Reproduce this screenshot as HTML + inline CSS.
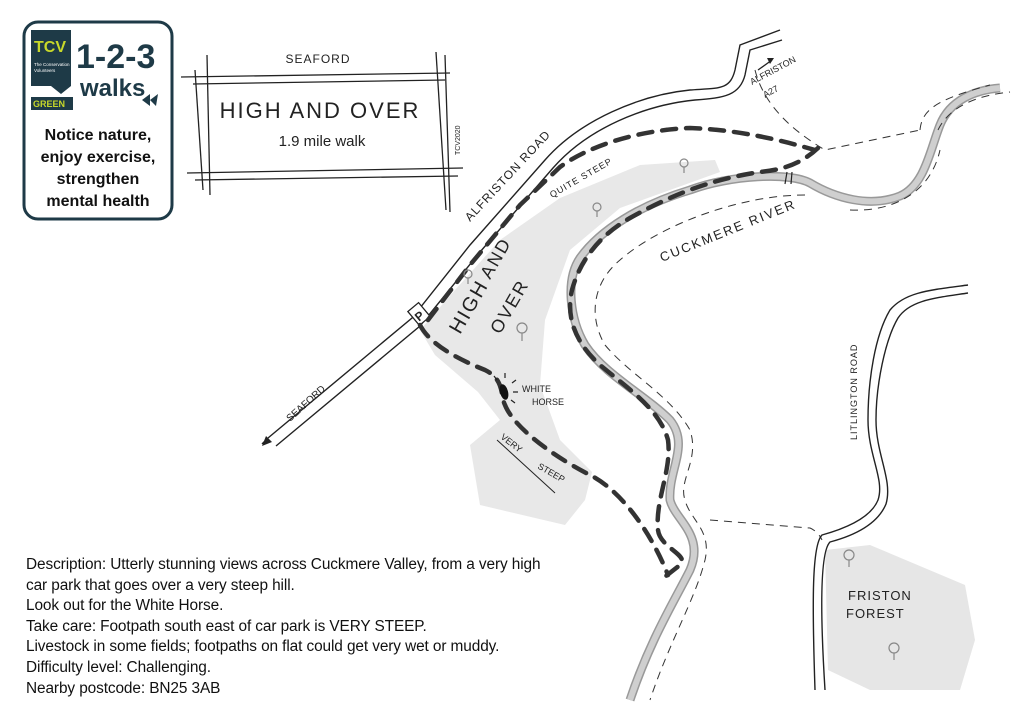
<!DOCTYPE html>
<html><head><meta charset="utf-8"><style>
html,body{margin:0;padding:0;background:#fff;}
body{width:1024px;height:723px;position:relative;overflow:hidden;font-family:"Liberation Sans",sans-serif;}
.desc{position:absolute;left:26px;top:555px;font-size:15.4px;line-height:20.6px;color:#111;letter-spacing:-0.1px;}
svg text{font-family:"Liberation Sans",sans-serif;fill:#222;}
</style></head><body>
<svg width="1024" height="723" viewBox="0 0 1024 723" style="position:absolute;left:0;top:0">
<!-- logo -->
<rect x="24" y="22" width="148" height="197" rx="14" fill="#fff" stroke="#1e3a47" stroke-width="3"/>
<path d="M31 30 h40 v56 l-10 8 l-10 -8 h-20 z" fill="#1e3a47"/>
<text x="34" y="52" font-size="16" font-weight="bold" style="fill:#c8d82a">TCV</text>
<text x="34" y="66" font-size="4.5" style="fill:#fff">The Conservation</text>
<text x="34" y="72" font-size="4.5" style="fill:#fff">Volunteers</text>
<rect x="31" y="97" width="42" height="13" fill="#1e3a47"/>
<text x="33" y="107" font-size="9" font-weight="bold" style="fill:#c8d82a">GREEN</text>
<text x="76" y="68" font-size="34" font-weight="bold" style="fill:#1e3a47">1-2-3</text>
<text x="80" y="96" font-size="24" font-weight="bold" style="fill:#1e3a47">walks</text>
<path d="M142 100 l8 -6 l0 12 z M150 100 l8 -6 l-2 12z" fill="#1e3a47"/>
<text x="98" y="140" font-size="16" font-weight="bold" text-anchor="middle" style="fill:#111">Notice nature,</text>
<text x="98" y="162" font-size="16" font-weight="bold" text-anchor="middle" style="fill:#111">enjoy exercise,</text>
<text x="98" y="184" font-size="16" font-weight="bold" text-anchor="middle" style="fill:#111">strengthen</text>
<text x="98" y="206" font-size="16" font-weight="bold" text-anchor="middle" style="fill:#111">mental health</text>

<!-- title box -->
<g stroke="#222" stroke-width="1.3" fill="none">
<path d="M181 77 L450 73"/><path d="M193 84 L445 80"/>
<path d="M187 173 L463 168"/><path d="M195 180 L458 176"/>
<path d="M195 70 L203 190"/><path d="M207 55 L210 195"/>
<path d="M436 52 L446 210"/><path d="M445 55 L450 212"/>
</g>
<text x="318" y="63" font-size="12" text-anchor="middle" letter-spacing="1">SEAFORD</text>
<text x="320" y="118" font-size="22" text-anchor="middle" letter-spacing="2">HIGH AND OVER</text>
<text x="322" y="146" font-size="15" text-anchor="middle">1.9 mile walk</text>
<text x="0" y="0" font-size="7" transform="translate(460,155) rotate(-90)">TCV2020</text>

<!-- shaded hill -->
<path d="M420 330 L455 290 L500 240 L560 198 L640 165 L715 160 L720 172 L620 208 L570 250 L545 320 L540 385 L560 440 L592 472 L585 500 L565 525 L480 505 L470 445 L500 420 L478 392 L435 355 Z" fill="#e8e8e8"/>
<path d="M825 550 L870 545 L965 585 L975 640 L960 690 L870 690 L828 670 Z" fill="#e6e6e6"/>

<!-- Alfriston road -->
<g stroke="#222" stroke-width="1.4" fill="none">
<path d="M268 438 L412 318 L470 245 L545 160 C580 120 640 95 690 90 C720 88 730 90 735 70 L740 45 L780 30"/>
<path d="M276 446 L420 326 L480 252 L553 168 C588 128 645 105 695 100 C725 98 740 95 745 75 L750 50 L782 40"/>
<path d="M268 438 L262 444"/>
</g>
<path d="M262 446 l4 -10 l6 6 z" fill="#222"/>
<rect x="412" y="305" width="14" height="18" fill="#fff" stroke="#222" stroke-width="1.3" transform="rotate(-40 419 314)"/>
<text x="414" y="320" font-size="12" font-weight="bold" transform="rotate(-40 419 314)">P</text>
<text x="0" y="0" font-size="10" transform="translate(290,422) rotate(-42)">SEAFORD</text>
<text x="0" y="0" font-size="12" letter-spacing="1" transform="translate(470,222) rotate(-47)">ALFRISTON ROAD</text>
<text x="0" y="0" font-size="9" transform="translate(752,85) rotate(-28)">ALFRISTON</text>
<text x="0" y="0" font-size="9" transform="translate(765,98) rotate(-28)">A27</text>
<path d="M758 70 L772 60" stroke="#222" stroke-width="1.3"/><path d="M774 58 l-7 0 l3 6 z" fill="#222"/>

<!-- river -->
<path d="M1000 88 C975 90 950 100 940 125 C930 150 925 185 900 196 C870 208 835 198 810 183 C790 172 730 175 690 190 C640 205 600 230 580 258 C565 280 570 320 585 345 C605 375 645 395 670 420 C690 445 668 470 670 500 C675 520 705 535 690 570 C675 600 650 640 630 700" fill="none" stroke="#999" stroke-width="9"/>
<path d="M1000 88 C975 90 950 100 940 125 C930 150 925 185 900 196 C870 208 835 198 810 183 C790 172 730 175 690 190 C640 205 600 230 580 258 C565 280 570 320 585 345 C605 375 645 395 670 420 C690 445 668 470 670 500 C675 520 705 535 690 570 C675 600 650 640 630 700" fill="none" stroke="#cfcfcf" stroke-width="6"/>
<path d="M787 172 l-2 12 M792 172 l-1 12" stroke="#222" stroke-width="1.2"/>
<g stroke="#333" stroke-width="1" fill="none" stroke-dasharray="8 6">
<path d="M755 70 C765 110 800 135 825 150 L920 130"/>
<path d="M920 130 C922 110 935 100 990 85"/>
<path d="M938 130 C950 105 980 95 1010 92"/>
<path d="M850 210 C890 212 930 195 940 150"/>
<path d="M805 195 C740 195 660 225 620 260 C590 285 590 320 605 345 C630 375 670 395 690 430 C700 460 678 480 685 500 C690 520 712 530 705 560 C695 600 670 640 650 700"/>
<path d="M710 520 L810 528 C815 530 820 535 822 540"/>
</g>
<g stroke="#333" stroke-width="4.5" fill="none" stroke-dasharray="14 10" stroke-linecap="round">
<path d="M428 320 L470 265 L520 205 L560 167 C590 145 640 130 690 128 C740 130 780 140 815 150"/>
<path d="M818 148 C800 165 780 170 760 172 C720 178 680 190 630 218 C600 235 580 260 572 290 C565 320 578 345 600 365 C630 390 660 410 668 440 C672 470 655 500 658 530 C660 548 690 555 680 565 L666 576"/>
<path d="M420 325 C430 345 460 360 485 370 C505 380 500 395 505 405 C515 430 560 460 590 475 C620 490 650 530 668 575"/>
</g>
<ellipse cx="504" cy="392" rx="4" ry="8" fill="#111" transform="rotate(-15 504 392)"/>
<g stroke="#222" stroke-width="1.2"><path d="M497 380 l-3 -4 M505 378 l0 -5 M512 383 l4 -3 M513 392 l5 0 M511 400 l4 3"/></g>
<text x="522" y="392" font-size="9">WHITE</text>
<text x="532" y="405" font-size="9">HORSE</text>
<text x="0" y="0" font-size="9" transform="translate(500,438) rotate(38)">VERY</text>
<text x="0" y="0" font-size="9" transform="translate(537,468) rotate(30)">STEEP</text>
<path d="M497 440 L555 493" stroke="#222" stroke-width="1"/>
<text x="0" y="0" font-size="9" letter-spacing="1" transform="translate(552,198) rotate(-30)">QUITE STEEP</text>
<text x="0" y="0" font-size="20" letter-spacing="2" transform="translate(460,335) rotate(-60)">HIGH</text>
<text x="0" y="0" font-size="18" letter-spacing="2" transform="translate(490,280) rotate(-60)">AND</text>
<text x="0" y="0" font-size="18" letter-spacing="2" transform="translate(500,335) rotate(-60)">OVER</text>
<text x="0" y="0" font-size="13" letter-spacing="2" transform="translate(662,262) rotate(-22)">CUCKMERE RIVER</text>
<g fill="none" stroke="#888" stroke-width="1.2">
<circle cx="684" cy="163" r="4"/><path d="M684 167 v6"/>
<circle cx="597" cy="207" r="4"/><path d="M597 211 v6"/>
<circle cx="468" cy="274" r="4"/><path d="M468 278 v6"/>
<circle cx="522" cy="328" r="5"/><path d="M522 333 v8"/>
<circle cx="849" cy="555" r="5"/><path d="M849 560 v7"/>
<circle cx="894" cy="648" r="5"/><path d="M894 653 v7"/>
</g>
<g stroke="#222" stroke-width="1.4" fill="none">
<path d="M968 285 C930 290 905 292 890 310 C875 335 868 380 868 420 C868 455 885 480 878 500 C870 520 840 530 822 535 C812 545 812 600 815 690"/>
<path d="M968 293 C935 298 910 300 898 318 C885 340 876 385 876 420 C876 455 893 480 886 504 C876 528 845 538 830 542 C820 552 820 610 825 690"/>
</g>
<text x="0" y="0" font-size="9" letter-spacing="1" transform="translate(857,440) rotate(-90)">LITLINGTON ROAD</text>
<text x="848" y="600" font-size="13" letter-spacing="1">FRISTON</text>
<text x="846" y="618" font-size="13" letter-spacing="1">FOREST</text>
</svg>
<div class="desc">Description: Utterly stunning views across Cuckmere Valley, from a very high<br>car park that goes over a very steep hill.<br>Look out for the White Horse.<br>Take care: Footpath south east of car park is VERY STEEP.<br>Livestock in some fields; footpaths on flat could get very wet or muddy.<br>Difficulty level: Challenging.<br>Nearby postcode: BN25 3AB</div>
</body></html>
